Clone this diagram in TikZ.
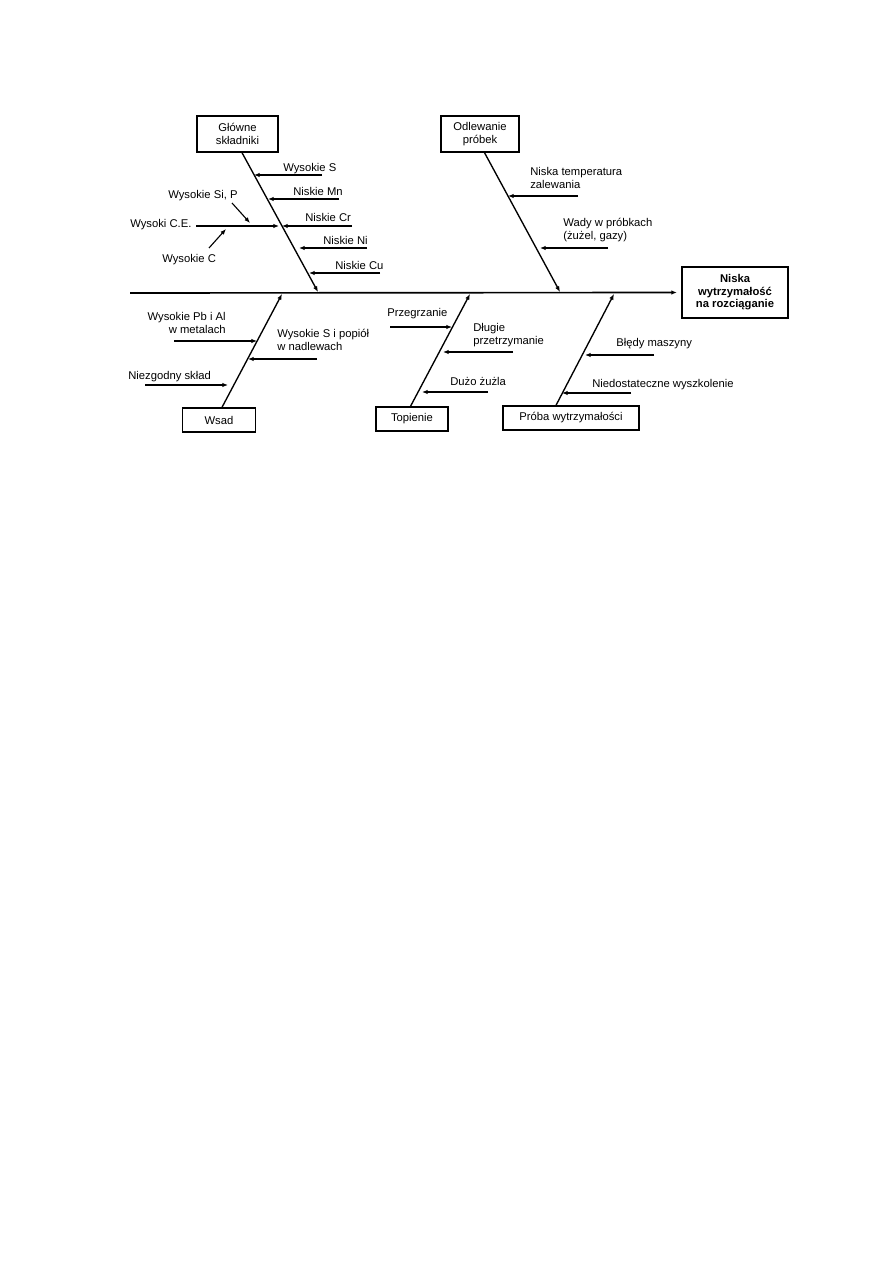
\documentclass[tikz,border=0pt]{standalone}
\usepackage{fontspec}
\setmainfont{Liberation Sans}
\usetikzlibrary{arrows.meta}

\tikzset{
  cat/.style={draw, line width=0.9pt, align=center, inner sep=0pt},
  lbl/.style={inner sep=0pt, align=left, anchor=base west},
  cause/.style={-{Latex[length=3.8pt,width=3pt]}, line width=0.75pt},
  bone/.style={-{Latex[length=3.8pt,width=3pt]}, line width=0.9pt},
}

\begin{document}
\begin{tikzpicture}[x=0.6666pt, y=-0.6666pt, font=\fontsize{7.5pt}{9pt}\selectfont]
    \useasboundingbox (0,0) rectangle (893,1263);

    % category boxes and effect
    \node[cat, minimum width=54pt, minimum height=24pt] (glowne) at (237.5,134) {Główne\\składniki};
    \node[cat, minimum width=52pt, minimum height=24pt] (odlew) at (480,134) {Odlewanie\\próbek};
    \node[cat, minimum width=49pt, minimum height=16pt] (wsad) at (219,420) {Wsad};
    \node[cat, minimum width=48pt, minimum height=16pt] (topienie) at (412,419) {Topienie};
    \node[cat, minimum width=90.5pt, minimum height=16pt] (proba) at (571,418) {Próba wytrzymałości};
    \node[cat, minimum width=70.5pt, minimum height=34pt, font=\fontsize{7.5pt}{8.3pt}\selectfont\bfseries] (effect) at (735,292.5) {Niska\\wytrzymałość\\na rozciąganie};

    % spine and bones
    \coordinate (tail) at (130,293);
    \coordinate (j-glowne) at (318,292);
    \coordinate (j-odlew) at (560,292);
    \coordinate (j-wsad) at (282,294);
    \coordinate (j-topienie) at (470,294);
    \coordinate (j-proba) at (614,294);
    \draw[-{Latex[length=3.8pt,width=3pt]}, line width=1.1pt] (tail) -- ([xshift=-3pt]effect.west);
    \draw[bone] ([xshift=3pt]glowne.south) -- (j-glowne);
    \draw[bone] ([xshift=3pt]odlew.south) -- (j-odlew);
    \draw[bone] ([xshift=2pt]wsad.north) -- (j-wsad);
    \draw[bone] ([xshift=-1pt]topienie.north) -- (j-topienie);
    \draw[bone] ([xshift=-10pt]proba.north) -- (j-proba);

    % Glowne skladniki
    \node[lbl] (wys-s) at (283,172) {Wysokie S};
    \node[lbl] (nis-mn) at (293,196) {Niskie Mn};
    \node[lbl] (nis-cr) at (305,222) {Niskie Cr};
    \node[lbl] (nis-ni) at (323,245) {Niskie Ni};
    \node[lbl] (nis-cu) at (335,270) {Niskie Cu};
    \node[lbl] (wys-ce) at (130,228) {Wysoki C.E.};
    \node[lbl] (wys-sip) at (168,199) {Wysokie Si, P};
    \node[lbl] (wys-c) at (162,263) {Wysokie C};
    \coordinate (a1) at (322,175); \coordinate (b1) at (254,175);
    \coordinate (a2) at (339,199); \coordinate (b2) at (268,199);
    \coordinate (a3) at (352,226); \coordinate (b3) at (282,226);
    \coordinate (a4) at (367,248); \coordinate (b4) at (299,248);
    \coordinate (a5) at (380,273); \coordinate (b5) at (309,273);
    \coordinate (a6) at (196,226); \coordinate (b6) at (279,226);
    \coordinate (a7) at (232,203); \coordinate (b7) at (250,223);
    \coordinate (a8) at (209,248); \coordinate (b8) at (226,229);
    \draw[cause] (a1) -- (b1);
    \draw[cause] (a2) -- (b2);
    \draw[cause] (a3) -- (b3);
    \draw[cause] (a4) -- (b4);
    \draw[cause] (a5) -- (b5);
    \draw[cause] (a6) -- (b6);
    \draw[cause] (a7) -- (b7);
    \draw[cause] (a8) -- (b8);

    % Odlewanie probek
    \node[lbl] (nis-temp) at (530,189) {Niska temperatura\\zalewania};
    \node[lbl] (wady) at (563,240) {Wady w próbkach\\(żużel, gazy)};
    \coordinate (a9) at (578,196); \coordinate (b9) at (508,196);
    \coordinate (a10) at (608,248); \coordinate (b10) at (540,248);
    \draw[cause] (a9) -- (b9);
    \draw[cause] (a10) -- (b10);

    % Wsad
    \node[lbl, align=right, anchor=base east] (wys-pb) at (226,334) {Wysokie Pb i Al\\w metalach};
    \node[lbl] (wys-sp) at (277,351) {Wysokie S i popiół\\w nadlewach};
    \node[lbl] (niezg) at (128,380) {Niezgodny skład};
    \coordinate (a11) at (174,341); \coordinate (b11) at (257,341);
    \coordinate (a12) at (317,359); \coordinate (b12) at (248,359);
    \coordinate (a13) at (145,385); \coordinate (b13) at (228,385);
    \draw[cause] (a11) -- (b11);
    \draw[cause] (a12) -- (b12);
    \draw[cause] (a13) -- (b13);

    % Topienie
    \node[lbl] (przegrz) at (387,317) {Przegrzanie};
    \node[lbl] (dlugie) at (473,345) {Długie\\przetrzymanie};
    \node[lbl] (duzo) at (450,386) {Dużo żużla};
    \coordinate (a14) at (390,327); \coordinate (b14) at (452,327);
    \coordinate (a15) at (513,352); \coordinate (b15) at (443,352);
    \coordinate (a16) at (488,392); \coordinate (b16) at (422,392);
    \draw[cause] (a14) -- (b14);
    \draw[cause] (a15) -- (b15);
    \draw[cause] (a16) -- (b16);

    % Proba wytrzymalosci
    \node[lbl] (bledy) at (616,347) {Błędy maszyny};
    \node[lbl] (niedost) at (592,388) {Niedostateczne wyszkolenie};
    \coordinate (a17) at (654,355); \coordinate (b17) at (585,355);
    \coordinate (a18) at (631,393); \coordinate (b18) at (562,393);
    \draw[cause] (a17) -- (b17);
    \draw[cause] (a18) -- (b18);
\end{tikzpicture}
\end{document}
